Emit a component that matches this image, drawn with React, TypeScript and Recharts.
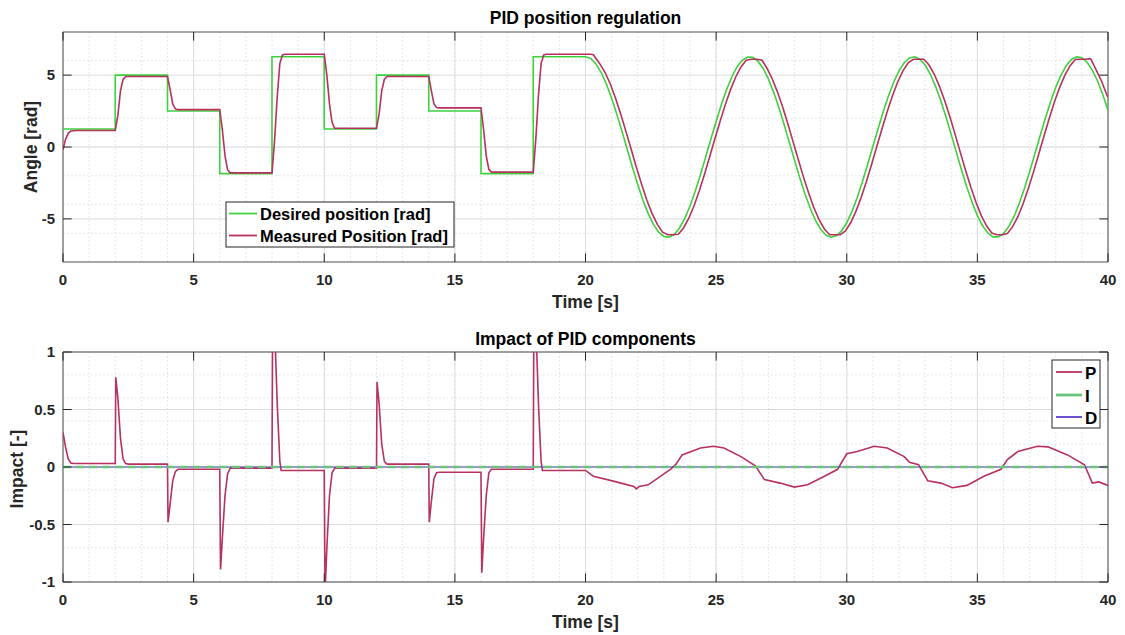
import React from "react"
import { LineChart, Line, XAxis, YAxis, CartesianGrid, ReferenceLine, ReferenceArea } from "recharts"

type Pt = [number, number]

// top panel: desired vs measured angle [rad] over time [s]
const desiredPosition: Pt[] = [
  [0, 1.25], [2, 1.25], [2, 5], [4, 5], [4, 2.5], [6, 2.5], [6, -1.85], [8, -1.85],
  [8, 6.28], [10, 6.28], [10, 1.25], [12, 1.25], [12, 5], [14, 5], [14, 2.5], [16, 2.5],
  [16, -1.85], [18, -1.85], [18, 6.28], [20, 6.28],
  [20.2, 6.16], [20.4, 5.78], [20.6, 5.18], [20.8, 4.38], [21, 3.39], [21.2, 2.28], [21.4, 1.07],
  [21.6, -0.18], [21.8, -1.43], [22, -2.61], [22.2, -3.7], [22.4, -4.63], [22.6, -5.38], [22.8, -5.92],
  [23, -6.22], [23.2, -6.27], [23.4, -6.07], [23.6, -5.63], [23.8, -4.97], [24, -4.1], [24.2, -3.08],
  [24.4, -1.93], [24.6, -0.7], [24.8, 0.55], [25, 1.78], [25.2, 2.94], [25.4, 3.99], [25.6, 4.87],
  [25.8, 5.57], [26, 6.03], [26.2, 6.26], [26.4, 6.24], [26.6, 5.97], [26.8, 5.46], [27, 4.73],
  [27.2, 3.82], [27.4, 2.76], [27.6, 1.58], [27.8, 0.34], [28, -0.91], [28.2, -2.13], [28.4, -3.26],
  [28.6, -4.26], [28.8, -5.09], [29, -5.72], [29.2, -6.12], [29.4, -6.28], [29.6, -6.18], [29.8, -5.84],
  [30, -5.27], [30.2, -4.48], [30.4, -3.52], [30.6, -2.42], [30.8, -1.22], [31, 0.03], [31.2, 1.27],
  [31.4, 2.47], [31.6, 3.57], [31.8, 4.52], [32, 5.3], [32.2, 5.86], [32.4, 6.19], [32.6, 6.28],
  [32.8, 6.11], [33, 5.7], [33.2, 5.06], [33.4, 4.22], [33.6, 3.22], [33.8, 2.08], [34, 0.86],
  [34.2, -0.39], [34.4, -1.63], [34.6, -2.8], [34.8, -3.86], [35, -4.77], [35.2, -5.48], [35.4, -5.98],
  [35.6, -6.25], [35.8, -6.25], [36, -6.02], [36.2, -5.54], [36.4, -4.85], [36.6, -3.95], [36.8, -2.89],
  [37, -1.73], [37.2, -0.49], [37.4, 0.76], [37.6, 1.98], [37.8, 3.13], [38, 4.15], [38.2, 5.0],
  [38.4, 5.66], [38.6, 6.09], [38.8, 6.27], [39, 6.21], [39.2, 5.9], [39.4, 5.35], [39.6, 4.59],
  [39.8, 3.65], [40, 2.56],
]

const measuredPosition: Pt[] = [
  [0, -0.2], [0.1, 0.55], [0.2, 0.95], [0.3, 1.12], [0.5, 1.15], [2, 1.15], [2.1, 2.2], [2.2, 3.9],
  [2.3, 4.7], [2.4, 4.9], [4, 4.9], [4.1, 4.0], [4.2, 3.0], [4.3, 2.65], [4.4, 2.6], [6, 2.6],
  [6.1, 1.2], [6.2, -0.6], [6.3, -1.6], [6.4, -1.8], [8, -1.8], [8.1, 0.5], [8.2, 3.5], [8.3, 5.8],
  [8.4, 6.4], [8.5, 6.45], [10, 6.45], [10.1, 5.0], [10.2, 3.0], [10.3, 1.7], [10.4, 1.3], [12, 1.3],
  [12.1, 2.3], [12.2, 3.9], [12.3, 4.7], [12.4, 4.9], [14, 4.9], [14.1, 3.9], [14.2, 3.0], [14.3, 2.75],
  [14.4, 2.72], [16, 2.72], [16.1, 1.2], [16.2, -0.6], [16.3, -1.55], [16.4, -1.75], [18, -1.75],
  [18.1, 0.6], [18.2, 3.6], [18.3, 5.8], [18.4, 6.4], [18.5, 6.45], [20.2, 6.45],
  [20.3, 6.42], [20.55, 5.78], [20.75, 5.18], [20.95, 4.38], [21.15, 3.39], [21.35, 2.28], [21.55, 1.07],
  [21.75, -0.18], [21.95, -1.43], [22.15, -2.61], [22.35, -3.7], [22.55, -4.63], [22.75, -5.38],
  [22.95, -5.92], [23.15, -6.1], [23.35, -6.1], [23.55, -6.07], [23.75, -5.63], [23.95, -4.97],
  [24.15, -4.1], [24.35, -3.08], [24.55, -1.93], [24.75, -0.7], [24.95, 0.55], [25.15, 1.78],
  [25.35, 2.94], [25.55, 3.99], [25.75, 4.87], [25.95, 5.57], [26.15, 6.03], [26.35, 6.1], [26.55, 6.1],
  [26.75, 6.05], [26.95, 5.46], [27.15, 4.73], [27.35, 3.82], [27.55, 2.76], [27.75, 1.58], [27.95, 0.34],
  [28.15, -0.91], [28.35, -2.13], [28.55, -3.26], [28.75, -4.26], [28.95, -5.09], [29.15, -5.72],
  [29.35, -6.1], [29.55, -6.1], [29.75, -6.1], [29.95, -5.84], [30.15, -5.27], [30.35, -4.48],
  [30.55, -3.52], [30.75, -2.42], [30.95, -1.22], [31.15, 0.03], [31.35, 1.27], [31.55, 2.47],
  [31.75, 3.57], [31.95, 4.52], [32.15, 5.3], [32.35, 5.86], [32.55, 6.1], [32.75, 6.1], [32.95, 6.1],
  [33.15, 5.7], [33.35, 5.06], [33.55, 4.22], [33.75, 3.22], [33.95, 2.08], [34.15, 0.86], [34.35, -0.39],
  [34.55, -1.63], [34.75, -2.8], [34.95, -3.86], [35.15, -4.77], [35.35, -5.48], [35.55, -5.98],
  [35.75, -6.1], [35.95, -6.1], [36.15, -6.02], [36.35, -5.54], [36.55, -4.85], [36.75, -3.95],
  [36.95, -2.89], [37.15, -1.73], [37.35, -0.49], [37.55, 0.76], [37.75, 1.98], [37.95, 3.13],
  [38.15, 4.15], [38.35, 5.0], [38.55, 5.66], [38.75, 6.09], [38.95, 6.1], [39.15, 6.1], [39.3, 6.15],
  [39.35, 6.1], [39.55, 5.35], [39.75, 4.59], [39.95, 3.65], [40, 3.45],
]

// bottom panel: impact of P, I, D terms [-]
const impactP: Pt[] = [
  [0, 0.3], [0.1, 0.17], [0.2, 0.07], [0.3, 0.035], [0.4, 0.03], [2, 0.03], [2.02, 0.78], [2.1, 0.6],
  [2.2, 0.25], [2.3, 0.07], [2.4, 0.03], [2.5, 0.025], [4, 0.025], [4.02, -0.48], [4.1, -0.32],
  [4.2, -0.12], [4.3, -0.04], [4.4, -0.02], [6, -0.02], [6.03, -0.89], [6.1, -0.62], [6.2, -0.25],
  [6.3, -0.06], [6.4, -0.01], [8, -0.01], [8.02, 1.1], [8.12, 1.1], [8.2, 0.55], [8.3, 0.05],
  [8.35, -0.03], [10, -0.03], [10.03, -1.1], [10.1, -0.7], [10.2, -0.25], [10.3, -0.05], [10.4, -0.01],
  [12, -0.01], [12.02, 0.74], [12.1, 0.55], [12.2, 0.2], [12.3, 0.05], [12.4, 0.025], [14, 0.025],
  [14.02, -0.48], [14.1, -0.3], [14.2, -0.1], [14.3, -0.05], [14.4, -0.045], [16, -0.045],
  [16.03, -0.92], [16.1, -0.62], [16.2, -0.25], [16.3, -0.05], [16.4, -0.02], [18, -0.02],
  [18.02, 1.1], [18.12, 1.1], [18.2, 0.55], [18.3, 0.05], [18.35, -0.03], [20, -0.03],
  [20.3, -0.08], [21.1, -0.125], [21.85, -0.17], [21.95, -0.19], [22.05, -0.17], [22.4, -0.155],
  [23.25, -0.02], [23.45, 0.02], [23.7, 0.105], [24.4, 0.165], [24.9, 0.18], [25.3, 0.165],
  [25.95, 0.09], [26.5, 0.01], [26.85, -0.11], [27.45, -0.14], [28, -0.175], [28.5, -0.155],
  [29.15, -0.08], [29.65, -0.02], [30, 0.115], [30.4, 0.135], [31.05, 0.18], [31.55, 0.165],
  [32.2, 0.09], [32.4, 0.04], [32.75, 0.02], [33.1, -0.12], [33.6, -0.14], [34.05, -0.18],
  [34.6, -0.16], [35.25, -0.08], [35.9, -0.02], [36.15, 0.065], [36.55, 0.135], [37.3, 0.18],
  [37.7, 0.175], [38.45, 0.105], [39.1, 0.02], [39.4, -0.14], [39.65, -0.13], [40, -0.16],
]
const impactI: Pt[] = [[0, 0], [40, 0]]
const impactD: Pt[] = [[0, 0], [40, 0]]

const timeTicks = [0, 5, 10, 15, 20, 25, 30, 35, 40]
const angleTicks = [-5, 0, 5]
const impactTicks = [-1, -0.5, 0, 0.5, 1]

const minorTime = Array.from({ length: 41 }, (_, i) => i)
const minorAngle = Array.from({ length: 17 }, (_, i) => i - 8)
const minorImpact = Array.from({ length: 21 }, (_, i) => (i - 10) / 10)

const FONT = "'Liberation Sans', Arial, Helvetica, sans-serif"
const INK = "#262626"
const GREEN = "#3dd13d"
const CRIMSON = "#b8305e"

const rows = (pts: Pt[]) => pts.map(([t, v]) => ({ t, v }))

const tickStyle = { fill: INK, fontSize: 15, fontWeight: 700, fontFamily: FONT }

// box + inward tick marks, like matlab's "box on"
function frameMarks(yMin: number, yMax: number, yTicks: number[], yLen: number, xLen: number) {
  const out: React.ReactNode[] = []
  timeTicks.forEach((x) => {
    out.push(<ReferenceLine key={`b${x}`} segment={[{ x, y: yMin }, { x, y: yMin + yLen }]} stroke={INK} />)
    out.push(<ReferenceLine key={`t${x}`} segment={[{ x, y: yMax }, { x, y: yMax - yLen }]} stroke={INK} />)
  })
  yTicks.forEach((y) => {
    out.push(<ReferenceLine key={`l${y}`} segment={[{ x: 0, y }, { x: xLen, y }]} stroke={INK} />)
    out.push(<ReferenceLine key={`r${y}`} segment={[{ x: 40, y }, { x: 40 - xLen, y }]} stroke={INK} />)
  })
  out.push(
    <ReferenceArea key="box" x1={0} x2={40} y1={yMin} y2={yMax} fill="none" stroke="#555555" strokeWidth={1} />
  )
  return out
}

function Axes({ domain, ticks, minor, height }: { domain: [number, number]; ticks: number[]; minor: number[]; height: number }) {
  return null
}

export default function App() {
  return (
    <div style={{ position: "absolute", left: 0, top: 0, width: 1125, height: 635, overflow: "hidden", background: "#fff" }}>
      <div style={{ position: "absolute", left: 0, top: 0 }}>
        <LineChart width={1125} height={320} margin={{ top: 32, right: 17, bottom: 0, left: 0 }}>
          <CartesianGrid horizontalValues={minorAngle} verticalValues={minorTime} stroke="#e0e0e0" strokeDasharray="1.5 2.5" />
          <CartesianGrid horizontalValues={angleTicks} verticalValues={timeTicks} stroke="#dcdcdc" />
          <XAxis dataKey="t" type="number" domain={[0, 40]} ticks={timeTicks} allowDataOverflow height={58}
            tickLine={false} axisLine={false} tickSize={0} tickMargin={12} tick={tickStyle} />
          <YAxis type="number" domain={[-8, 8]} ticks={angleTicks} allowDataOverflow width={63}
            tickLine={false} axisLine={false} tickSize={0} tickMargin={8} tick={tickStyle} />
          <Line data={rows(desiredPosition)} dataKey="v" name="Desired position [rad]" type="linear"
            stroke={GREEN} strokeWidth={1.6} dot={false} isAnimationActive={false} />
          <Line data={rows(measuredPosition)} dataKey="v" name="Measured Position [rad]" type="linear"
            stroke={CRIMSON} strokeWidth={1.6} dot={false} isAnimationActive={false} />
          {frameMarks(-8, 8, angleTicks, 0.6, 0.33)}
        </LineChart>
      </div>
      <div style={{ position: "absolute", left: 0, top: 320 }}>
        <LineChart width={1125} height={315} margin={{ top: 32, right: 17, bottom: 0, left: 0 }}>
          <CartesianGrid horizontalValues={minorImpact} verticalValues={minorTime} stroke="#e0e0e0" strokeDasharray="1.5 2.5" />
          <CartesianGrid horizontalValues={impactTicks} verticalValues={timeTicks} stroke="#dcdcdc" />
          <XAxis dataKey="t" type="number" domain={[0, 40]} ticks={timeTicks} allowDataOverflow height={53}
            tickLine={false} axisLine={false} tickSize={0} tickMargin={12} tick={tickStyle} />
          <YAxis type="number" domain={[-1, 1]} ticks={impactTicks} allowDataOverflow width={63}
            tickLine={false} axisLine={false} tickSize={0} tickMargin={8} tick={tickStyle} />
          <Line data={rows(impactP)} dataKey="v" name="P" type="linear"
            stroke={CRIMSON} strokeWidth={1.6} dot={false} isAnimationActive={false} />
          <Line data={rows(impactD)} dataKey="v" name="D" type="linear"
            stroke="#5a3dc8" strokeWidth={1.2} dot={false} isAnimationActive={false} />
          <Line data={rows(impactI)} dataKey="v" name="I" type="linear"
            stroke="#6cc47c" strokeWidth={2.5} strokeDasharray="8 5" dot={false} isAnimationActive={false} />
          {frameMarks(-1, 1, impactTicks, 0.075, 0.33)}
        </LineChart>
      </div>

      <svg width={1125} height={635} style={{ position: "absolute", left: 0, top: 0, pointerEvents: "none" }}
        fontFamily={FONT} fontWeight={700} fill={INK}>
        <text x={585.5} y={24} fontSize={17.5} textAnchor="middle" fill="#000">PID position regulation</text>
        <text x={585.5} y={308} fontSize={17.5} textAnchor="middle">Time [s]</text>
        <text transform="translate(37,147) rotate(-90)" fontSize={17.5} textAnchor="middle">Angle [rad]</text>

        <text x={585.5} y={345} fontSize={17.5} textAnchor="middle" fill="#000">Impact of PID components</text>
        <text x={585.5} y={628} fontSize={17.5} textAnchor="middle">Time [s]</text>
        <text transform="translate(23,469) rotate(-90)" fontSize={17.5} textAnchor="middle">Impact [-]</text>

        <g>
          <rect x={226} y={202} width={228} height={45} fill="#fff" stroke={INK} strokeWidth={1} />
          <line x1={229} x2={257} y1={213.5} y2={213.5} stroke={GREEN} strokeWidth={1.8} />
          <text x={260} y={219.5} fontSize={16.5} fill="#000">Desired position [rad]</text>
          <line x1={229} x2={257} y1={235.5} y2={235.5} stroke={CRIMSON} strokeWidth={1.8} />
          <text x={260} y={241.5} fontSize={16.5} fill="#000">Measured Position [rad]</text>
        </g>
        <g>
          <rect x={1052} y={360} width={48} height={68} fill="#fff" stroke={INK} strokeWidth={1} />
          <line x1={1056} x2={1082} y1={372} y2={372} stroke={CRIMSON} strokeWidth={1.8} />
          <text x={1085} y={379} fontSize={17} fill="#000">P</text>
          <line x1={1056} x2={1082} y1={395} y2={395} stroke="#6cc47c" strokeWidth={2.8} />
          <text x={1085} y={401.5} fontSize={17} fill="#000">I</text>
          <line x1={1056} x2={1082} y1={417} y2={417} stroke="#5a3dc8" strokeWidth={1.8} />
          <text x={1085} y={424} fontSize={17} fill="#000">D</text>
        </g>
      </svg>
    </div>
  )
}
